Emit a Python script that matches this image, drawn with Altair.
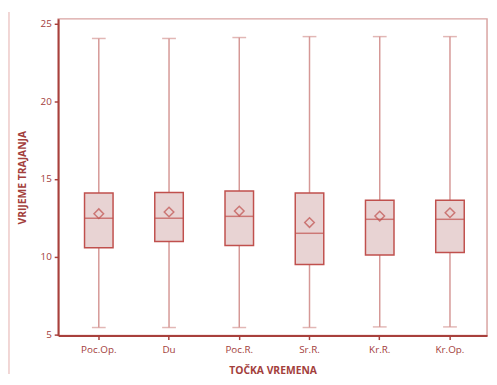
import altair as alt
import pandas as pd

categories = ["Poc.Op.", "Du", "Poc.R.", "Sr.R.", "Kr.R.", "Kr.Op."]
q1 = [10.57, 10.97, 10.72, 9.49, 10.10, 10.27]
q3 = [14.09, 14.13, 14.22, 14.09, 13.63, 13.63]
median = [12.47, 12.47, 12.59, 11.50, 12.40, 12.40]
mean = [12.76, 12.87, 12.93, 12.19, 12.61, 12.82]
lo = [5.44, 5.44, 5.44, 5.44, 5.48, 5.48]
hi = [24.03, 24.03, 24.09, 24.15, 24.15, 24.15]

df = pd.DataFrame({"cat": categories, "q1": q1, "q3": q3, "median": median,
                   "mean": mean, "lo": lo, "hi": hi})

STROKE = "#c0504d"
WHISK = "#d59896"
FILL = "#e8d3d3"
TEXT = "#a3403c"

xenc = alt.X("cat:N", sort=categories,
             scale=alt.Scale(paddingInner=0, paddingOuter=0.053, align=0.74),
             axis=alt.Axis(title="TOČKA VREMENA", labelAngle=0, tickSize=4,
                           labelPadding=5, titlePadding=12))
yscale = alt.Scale(domain=[4.92, 25.29], nice=False, zero=False)
yaxis = alt.Axis(title="VRIJEME TRAJANJA", values=[5, 10, 15, 20, 25], tickSize=4,
                 labelPadding=3, titlePadding=13, grid=False)

base = alt.Chart(df)

whisk = base.mark_rule(color=WHISK, strokeWidth=1.5).encode(
    x=xenc, y=alt.Y("lo:Q", scale=yscale, axis=yaxis), y2="hi:Q")
cap_lo = base.mark_tick(color=WHISK, size=14, thickness=1.5).encode(
    x=xenc, y=alt.Y("lo:Q", scale=yscale))
cap_hi = base.mark_tick(color=WHISK, size=14, thickness=1.5).encode(
    x=xenc, y=alt.Y("hi:Q", scale=yscale))
box = base.mark_bar(size=29, fill=FILL, stroke=STROKE, strokeWidth=1.5).encode(
    x=xenc, y=alt.Y("q1:Q", scale=yscale), y2="q3:Q")
med = base.mark_tick(color=STROKE, size=29, thickness=1.5).encode(
    x=xenc, y=alt.Y("median:Q", scale=yscale))
mn = base.mark_point(shape="diamond", size=95, filled=False, color=STROKE,
                     strokeWidth=1.5).encode(
    x=xenc, y=alt.Y("mean:Q", scale=yscale))
deco = alt.Chart(pd.DataFrame({"a": [0]})).mark_rule(color="#edc9c8", strokeWidth=1.5).encode(
    x=alt.value(-50), y=alt.value(-7), y2=alt.value(361))

chart = alt.layer(deco, whisk, cap_lo, cap_hi, box, med, mn).properties(
    width=436, height=322,
    autosize=alt.AutoSizeParams(type="none"),
    padding={"left": 51, "top": 8, "right": 2, "bottom": 38},
).configure_view(
    stroke="#d9a3a1", strokeWidth=1.5
).configure_axis(
    domainColor="#a8403c", domainWidth=2, tickColor="#a8403c", tickWidth=1.5,
    labelColor=TEXT, titleColor=TEXT, labelFont="Open Sans", titleFont="Open Sans",
    labelFontSize=10, titleFontSize=10.5, titleFontWeight="bold", labelFontWeight="normal"
)

chart.save("out.html", embed_options={"renderer": "svg", "actions": False})
